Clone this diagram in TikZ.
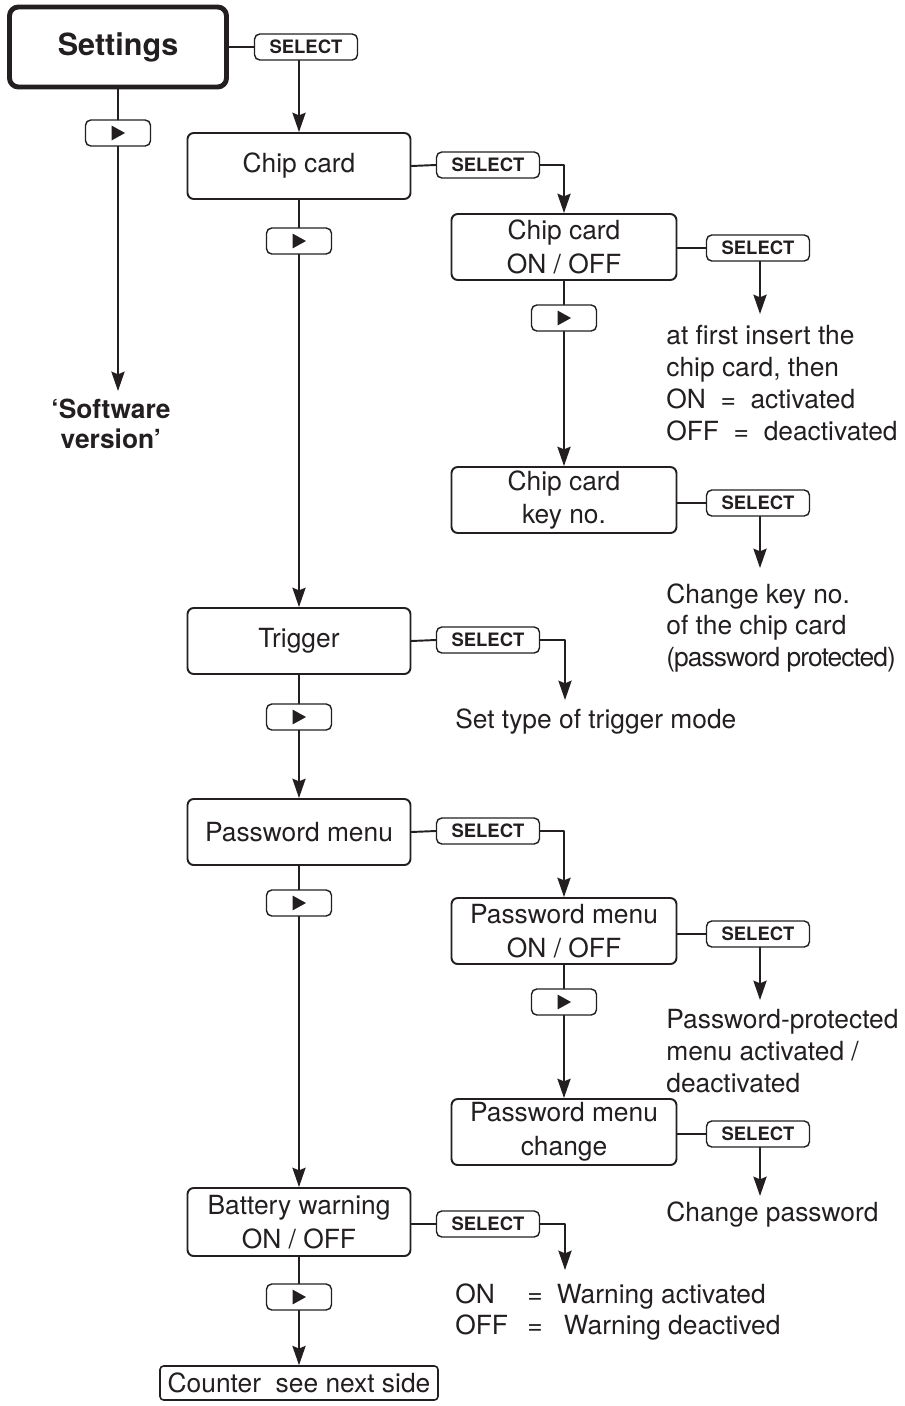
\documentclass[tikz,border=0pt]{standalone}
\usepackage{fontspec}
\setmainfont{TeX Gyre Heros}
\usetikzlibrary{arrows.meta}
\definecolor{ink}{RGB}{35,31,32}

\begin{document}
\begin{tikzpicture}[x=0.02cm,y=-0.02cm,>={Stealth[length=11pt,width=7.5pt,inset=1.5pt]},line cap=round,line join=round,ink]
  \tikzset{
    menu/.style={draw,line width=1.1pt,rounded corners=3.5pt,minimum width=4.46cm,minimum height=1.32cm,
      align=center,inner sep=0pt,font=\fontsize{15}{19.3}\selectfont},
    sub/.style={menu,minimum width=4.50cm},
    head/.style={draw,line width=2.8pt,rounded corners=5pt,minimum width=4.34cm,minimum height=1.6cm,
      font=\bfseries\fontsize{17.4}{20}\selectfont},
    sel/.style={draw,line width=0.8pt,rounded corners=3pt,minimum width=2.06cm,minimum height=0.52cm,
      inner sep=0pt,font=\bfseries\fontsize{10.5}{12}\selectfont},
    play/.style={draw,line width=0.8pt,rounded corners=3pt,minimum width=1.30cm,minimum height=0.52cm,inner sep=0pt},
    note/.style={anchor=north west,align=left,inner sep=0pt,font=\fontsize{15}{18.1}\selectfont},
    wire/.style={line width=1.1pt},
    flow/.style={->,line width=1.1pt}
  }
  \useasboundingbox (0,0) rectangle (905,1406);

  % left branch: settings and software version
  \node[head] (set) at (118,47) {Settings};
  \node[sel] (s0) at (306,47) {SELECT};
  \node[play] (p0) at (118,133) {};
  \node[note,anchor=north,align=center,font=\bfseries\fontsize{15}{17}\selectfont] (sw) at (111,399) {‘Software\\version’};
  \coordinate (e0) at (118,391);
  \draw[wire] (set.east) -- (s0.west);
  \draw[wire] (set.south) -- (p0.north);
  \draw[flow] (p0.south) -- (e0);

  % chip card
  \node[menu] (card) at (299,166) {Chip card};
  \node[sel] (s1) at (488,165) {SELECT};
  \node[sub] (cardsw) at (564,247) {Chip card\\ON / OFF};
  \node[sel] (s2) at (758,248) {SELECT};
  \node[note] (n1) at (666,325) {at first insert the\\chip card, then\\ON\ \ =\ \ activated\\OFF\ \ =\ \ deactivated};
  \coordinate (e1) at (760,314);
  \node[play] (p2) at (564,318) {};
  \node[sub] (cardkey) at (564,500) {Chip card\\key no.};
  \node[sel] (s3) at (758,503) {SELECT};
  \node[note] (n2) at (666,583) {Change key no.\\of the chip card\\{\addfontfeature{LetterSpace=-3.5}(password protected)}};
  \coordinate (e2) at (760,568);
  \draw[flow] (card.north |- s0.south) -- (card.north);
  \draw[wire] (card.east) -- (s1.west);
  \draw[flow] (s1.east) -| (cardsw.north);
  \draw[wire] (cardsw.east |- s2.west) -- (s2.west);
  \draw[flow] (e1 |- s2.south) -- (e1);
  \draw[wire] (cardsw.south) -- (p2.north);
  \draw[flow] (p2.south) -- (cardkey.north);
  \draw[wire] (cardkey.east |- s3.west) -- (s3.west);
  \draw[flow] (e2 |- s3.south) -- (e2);

  % trigger
  \node[play] (p1) at (299,241) {};
  \node[menu] (trig) at (299,641) {Trigger};
  \node[sel] (s4) at (488,640) {SELECT};
  \node[note] (n3) at (455,708) {Set type of trigger mode};
  \coordinate (e3) at (565,700);
  \draw[wire] (card.south) -- (p1.north);
  \draw[flow] (p1.south) -- (trig.north);
  \draw[wire] (trig.east) -- (s4.west);
  \draw[flow] (s4.east) -| (e3);

  % password menu
  \node[play] (p3) at (299,717) {};
  \node[menu] (pw) at (299,832) {Password menu};
  \node[sel] (s5) at (488,831) {SELECT};
  \node[sub] (pwsw) at (564,931) {Password menu\\ON / OFF};
  \node[sel] (s6) at (758,934) {SELECT};
  \node[note] (n4) at (666,1009) {Password-protected\\menu activated /\\deactivated};
  \coordinate (e4) at (760,1000);
  \node[play] (p5) at (564,1002) {};
  \node[sub] (pwch) at (564,1132) {Password menu\\change};
  \node[sel] (s7) at (758,1134) {SELECT};
  \node[note] (n5) at (666,1201) {Change password};
  \coordinate (e5) at (760,1196);
  \draw[wire] (trig.south) -- (p3.north);
  \draw[flow] (p3.south) -- (pw.north);
  \draw[wire] (pw.east) -- (s5.west);
  \draw[flow] (s5.east) -| (pwsw.north);
  \draw[wire] (pwsw.east |- s6.west) -- (s6.west);
  \draw[flow] (e4 |- s6.south) -- (e4);
  \draw[wire] (pwsw.south) -- (p5.north);
  \draw[flow] (p5.south) -- (pwch.north);
  \draw[wire] (pwch.east |- s7.west) -- (s7.west);
  \draw[flow] (e5 |- s7.south) -- (e5);

  % battery warning and counter
  \node[play] (p4) at (299,903) {};
  \node[menu,minimum height=1.36cm] (bat) at (299,1222) {Battery warning\\ON / OFF};
  \node[sel] (s8) at (488,1224) {SELECT};
  \node[note] (n6) at (455,1283) {\makebox[41pt][l]{ON}=\hspace{8pt}Warning activated\\\makebox[41pt][l]{OFF}=\hspace{12pt}Warning deactived};
  \coordinate (e6) at (565,1270);
  \node[play] (p6) at (299,1297) {};
  \node[draw,line width=0.9pt,rounded corners=2pt,minimum width=5.56cm,minimum height=0.68cm,inner sep=0pt,
    font=\fontsize{15}{18}\selectfont] (cnt) at (299,1383) {Counter\ \ see next side};
  \draw[wire] (pw.south) -- (p4.north);
  \draw[flow] (p4.south) -- (bat.north);
  \draw[wire] (bat.east |- s8.west) -- (s8.west);
  \draw[flow] (s8.east) -| (e6);
  \draw[wire] (bat.south) -- (p6.north);
  \draw[flow] (p6.south) -- (cnt.north);

  % play symbols
  \foreach \p in {p0,p1,p2,p3,p4,p5,p6}
    \fill ([shift={(-3.6pt,-4.2pt)}]\p.center) -- ++(0,8.4pt) -- ++(7.6pt,-4.2pt) -- cycle;
\end{tikzpicture}
\end{document}
